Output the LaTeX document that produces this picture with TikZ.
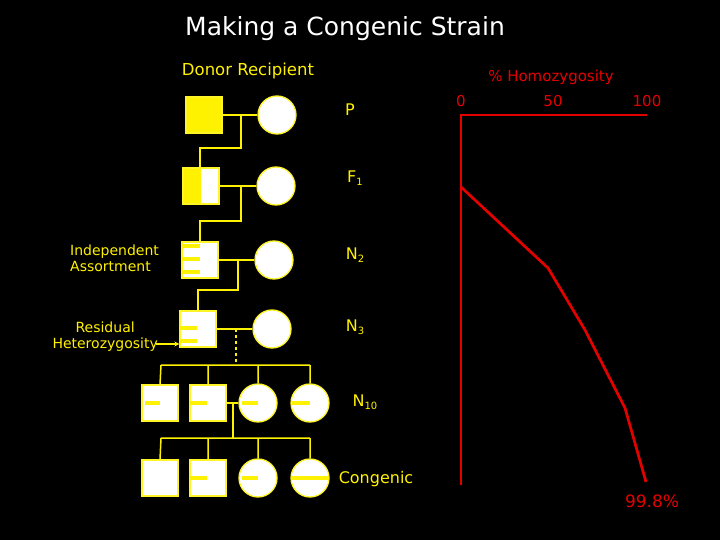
\documentclass[tikz,border=0pt]{standalone}
\usepackage{fontspec}
\setmainfont{DejaVu Sans}
\newcommand{\sbs}[1]{\raisebox{-0.3ex}{\fontsize{10}{10}\selectfont #1}}
\begin{document}
\begin{tikzpicture}[x=1pt,y=-1pt,
  yl/.style={draw=yellow,line width=1.5pt},
  sq/.style={draw=yellow!85!white,fill=white,line width=1.3pt,minimum size=36pt,inner sep=0,shape=rectangle},
  ci/.style={draw=yellow!85!white,fill=white,line width=1.3pt,minimum size=38pt,inner sep=0,shape=circle},
  bar/.style={draw=yellow,line width=4.5pt},
  ytxt/.style={text=yellow,font=\fontsize{14}{16}\selectfont},
  gl/.style={text=yellow,font=\fontsize{16}{18}\selectfont},
  rl/.style={draw=red!90!black,line width=1.5pt},
  rtxt/.style={text=red!90!black,font=\fontsize{15}{16}\selectfont}]
\fill[black] (0,0) rectangle (720,540);
\node[text=white,font=\fontsize{25}{28}\selectfont] (title) at (345,29) {Making a Congenic Strain};
\node[text=yellow,font=\fontsize{16.5}{18}\selectfont] (dr) at (248,71) {Donor Recipient};
% P
\node[sq,fill=yellow] (p1) at (204,115) {};
\node[ci] (p2) at (277,115) {};
\node[gl] (lp) at (350,110) {P};
% F1
\node[sq] (f1) at (201,186) {};
\fill[yellow] (f1.north west) rectangle (f1.south);
\node[sq,fill=none] at (201,186) {};
\node[ci] (f2) at (276,186) {};
\node[gl] (lf) at (355,178) {F\sbs{1}};
% N2
\node[sq] (n2a) at (200,260) {};
\node[ci] (n2b) at (274,260) {};
\draw[bar] (182,246)--(200,246) (182,259)--(200,259) (182,272)--(200,272);
\node[gl] (ln2) at (355,255) {N\sbs{2}};
% N3
\node[sq] (n3a) at (198,329) {};
\node[ci] (n3b) at (272,329) {};
\draw[bar] (180,328)--(197,328) (180,341)--(197,341);
\node[gl] (ln3) at (355,327) {N\sbs{3}};
% N10
\node[sq] (a1) at (160,403) {};
\node[sq] (a2) at (208,403) {};
\node[ci] (a3) at (258,403) {};
\node[ci] (a4) at (310,403) {};
\draw[bar] (145,403)--(160,403) (189,403)--(207,403) (242,403)--(258,403) (292,403)--(310,403);
\node[gl] (ln10) at (365,402) {N\sbs{10}};
% Congenic
\node[sq] (c1) at (160,478) {};
\node[sq] (c2) at (208,478) {};
\node[ci] (c3) at (258,478) {};
\node[ci] (c4) at (310,478) {};
\draw[bar] (189,478)--(207,478) (242,478)--(258,478) (291,478)--(329,478);
\node[gl] (lc) at (376,479) {Congenic};
% lines
\draw[yl] (p1.east)--(p2.west) (241,115)--(241,148)--(200,148)--(f1.north-|200,0);
\draw[yl] (f1.east)--(f2.west) (241,186)--(241,221)--(200,221)--(n2a.north-|200,0);
\draw[yl] (n2a.east)--(n2b.west) (238,260)--(238,290)--(198,290)--(n3a.north-|198,0);
\draw[yl] (n3a.east)--(n3b.west);
\draw[yl,dashed] (236,329)--(236,365);
\draw[yl] (161,365)--(310,365) (161,365)--(a1.north) (208,365)--(a2.north) (258,365)--(a3.north) (310,365)--(a4.north);
\draw[yl] (a2.east)--(a3.west) (233,403)--(233,438);
\draw[yl] (161,438)--(310,438) (161,438)--(c1.north) (208,438)--(c2.north) (258,438)--(c3.north) (310,438)--(c4.north);
% left labels
\node[ytxt,align=left,anchor=west,inner sep=0] (ia) at (70,258) {Independent\\Assortment};
\node[ytxt,align=center,anchor=east,inner sep=0] (rh) at (158,337) {Residual\\Heterozygosity};
\coordinate (arrs) at (156,344);
\draw[yl,line width=1.2pt,-stealth] (arrs)--(n3a.west|-0,344);
% graph
\coordinate (o) at (461,115);
\coordinate (xe) at (647,115);
\coordinate (ye) at (461,485);
\draw[rl,line width=1.3pt] (xe)--(o)--(ye);
\draw[rl,line width=2.7pt,line join=round] (461,187)--(548,268)--(585,330)--(625,408)--(646,482);
\node[rtxt] (hz) at (551,77) {\% Homozygosity};
\node[rtxt] (t0) at (461,101) {0};
\node[rtxt] (t50) at (553,101) {50};
\node[rtxt] (t100) at (647,101) {100};
\node[rtxt,font=\fontsize{17}{18}\selectfont] (end) at (652,501) {99.8\%};
\end{tikzpicture}
\end{document}
